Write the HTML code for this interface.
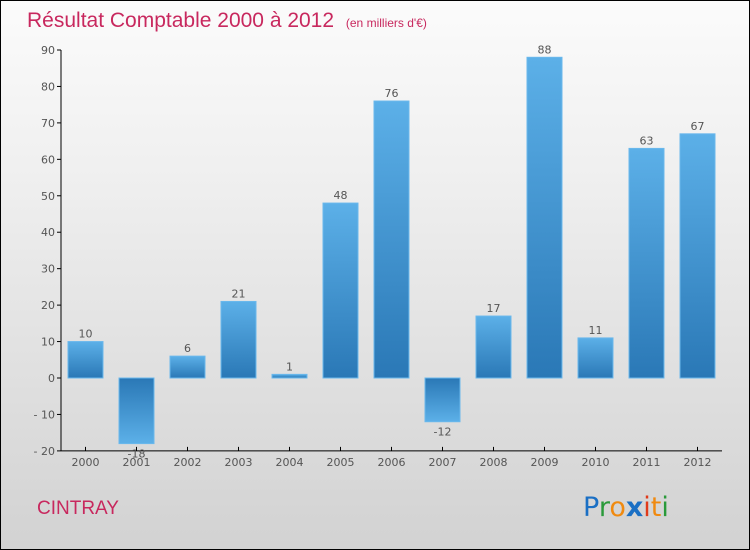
<!DOCTYPE html>
<html><head><meta charset="utf-8"><style>
body{margin:0;}
#c{width:748px;height:548px;border:1px solid #000;background:linear-gradient(#fbfbfb,#f0f0f0 30%,#d2d2d2);position:relative;font-family:"DejaVu Sans","Liberation Sans",sans-serif;overflow:hidden}
</style></head><body>
<div id="c">
<svg width="748" height="548" style="position:absolute;left:-1px;top:-1px">
<defs>
<linearGradient id="gp" x1="0" y1="0" x2="0" y2="1"><stop offset="0" stop-color="#5cb0e8"/><stop offset="1" stop-color="#2a78b6"/></linearGradient>
<linearGradient id="gn" x1="0" y1="0" x2="0" y2="1"><stop offset="0" stop-color="#2a78b6"/><stop offset="1" stop-color="#5cb0e8"/></linearGradient>
</defs>
<text x="27" y="27" font-size="21" fill="#c8285e" font-family="'Liberation Sans',sans-serif">Résultat Comptable 2000 à 2012 <tspan font-size="12" dx="6">(en milliers d'€)</tspan></text>
<g id="axes"></g>
<g id="bars"></g>
<text x="37" y="514" font-size="19" fill="#c8285e" font-family="'Liberation Sans',sans-serif">CINTRAY</text>
<text x="583" y="516" font-size="27" font-family="'DejaVu Sans',sans-serif"><tspan fill="#1a6fc4">P</tspan><tspan fill="#2a9a3a">r</tspan><tspan fill="#f08a10">o</tspan><tspan fill="#1a6fc4" font-weight="bold">x</tspan><tspan fill="#e03a1a">i</tspan><tspan fill="#f08a10">t</tspan><tspan fill="#2a9a3a">i</tspan></text>
</svg>
</div>
<script>
const categories=["2000","2001","2002","2003","2004","2005","2006","2007","2008","2009","2010","2011","2012"];
const values=[10,-18,6,21,1,48,76,-12,17,88,11,63,67];
const ticks=[90,80,70,60,50,40,30,20,10,0,-10,-20];
const NS="http://www.w3.org/2000/svg";
function y(v){return 378-v*(328/90);}
function x(i){return 85.5+51*i;}
function mk(t,a,p){const e=document.createElementNS(NS,t);for(const k in a)e.setAttribute(k,a[k]);p.appendChild(e);return e;}
const ax=document.getElementById('axes'),bg=document.getElementById('bars');
let l=mk('line',{x1:61,y1:y(90),x2:61,y2:y(-20),stroke:'#000'},ax);


l=mk('line',{x1:61,y1:y(-20),x2:722,y2:y(-20),stroke:'#000'},ax);


ticks.forEach(t=>{
 mk('line',{x1:57,y1:y(t),x2:61,y2:y(t),stroke:'#000'},ax);
 const tx=mk('text',{x:55,y:y(t)+4,'font-size':11,fill:'#555','text-anchor':'end'},ax);
 tx.textContent=t<0?'- '+(-t):t;
 
 
});
categories.forEach((c,i)=>{
 const v=values[i],cx=x(i);
 mk('line',{x1:cx,y1:y(-20)-4,x2:cx,y2:y(-20),stroke:'#000'},ax);
 const t=mk('text',{x:cx,y:y(-20)+15,'font-size':11,fill:'#555','text-anchor':'middle'},ax);
 t.textContent=c;
 
 
 const top=Math.min(y(v),y(0)),h=Math.abs(y(v)-y(0));
 const r=mk('rect',{x:cx-17.5,y:top,width:35,height:Math.max(h,1),fill:v>=0?'url(#gp)':'url(#gn)',stroke:'#6ab8ec','stroke-width':1},bg);
 
 
 const lb=mk('text',{x:cx,y:v>=0?y(v)-4:y(v)+14,'font-size':11,fill:'#555','text-anchor':'middle'},bg);
 lb.textContent=v<0?'-'+(-v):v;
 
 
});
</script>
</body></html>
